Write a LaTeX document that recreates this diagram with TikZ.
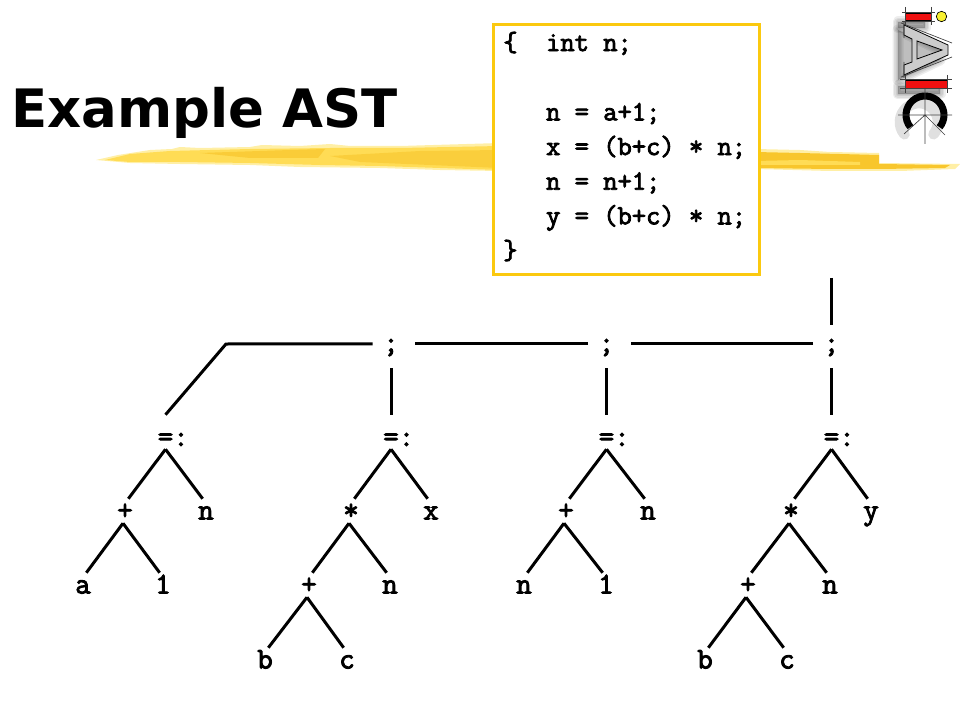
\documentclass[tikz,border=0pt]{standalone}
\usepackage{fontspec}
\usepackage{tikz}
\usetikzlibrary{arrows.meta,positioning,calc}
\usepackage{xcolor}
\newfontfamily\titlefont{DejaVu Sans}
\newfontfamily\monofont{Latin Modern Mono}[FakeBold=3]
\definecolor{brushpale}{HTML}{FFEFA6}
\definecolor{brushlight}{HTML}{FFDC55}
\definecolor{brushdark}{HTML}{F8C62C}
\definecolor{boxyellow}{HTML}{FBC90F}
\definecolor{logored}{HTML}{F01010}
\definecolor{logoyellow}{HTML}{F8F030}
\newcommand{\softshade}[1]{
  \foreach \wd in {11,8,5,2} {
    \path[fill=black, draw=black, opacity=0.07, line join=round, line width=\wd*0.75pt] #1;
  }
}

\begin{document}
\begin{tikzpicture}[
    x=0.75pt, y=-0.75pt,
    tree_edge/.style={line width=2.25pt, black},
    thin_rule/.style={line width=0.5pt, black!75},
    leaf/.style={
      inner sep=0pt, text height=15.35pt, text depth=2.65pt,
      font=\fontsize{22.5}{22}\monofont
    },
    asgn/.style={
      inner sep=0pt, text height=23.25pt, text depth=2.25pt,
      font=\fontsize{22.5}{22}\monofont
    },
    seq/.style={
      inner sep=0pt, minimum width=31.5pt, text height=20.25pt, text depth=12pt,
      font=\fontsize{22.5}{22}\monofont
    },
    code_box/.style={
      draw=boxyellow, fill=white, line width=2.25pt
    }
  ]
  \useasboundingbox (0,0) rectangle (960,720);

  % --- Brush stroke under the title ---
  \fill[brushpale] (96,160) -- (118,155) -- (150,150) -- (172,149) -- (180,147) -- (200,148)
    -- (250,147) -- (262,145) -- (300,146) -- (330,144) -- (350,146) -- (400,146) -- (500,143)
    -- (500,171) -- (440,170) -- (380,168) -- (300,167) -- (250,165) -- (180,164)
    -- (130,163) -- cycle;
  \fill[brushlight] (105,160) -- (130,154) -- (170,151) -- (250,149) -- (330,148)
    -- (400,148) -- (500,146) -- (500,170) -- (440,168) -- (380,166) -- (320,165)
    -- (250,163) -- (180,162) -- (130,162) -- cycle;
  \fill[brushdark, opacity=0.7] (200,153) -- (290,150) -- (325,149) -- (318,158) -- (250,158) -- cycle;
  \fill[brushdark, opacity=0.6] (330,156) -- (420,151) -- (500,150) -- (500,168) -- (430,165)
    -- (360,162) -- cycle;
  \fill[brushpale] (755,149) -- (800,150) -- (830,152) -- (879,153) -- (879,163) -- (960,164)
    -- (955,169) -- (900,171) -- (830,171) -- (755,169) -- cycle;
  \fill[brushdark] (755,152) -- (800,153) -- (879,155) -- (879,164) -- (950,165) -- (945,168)
    -- (880,169) -- (830,169) -- (755,168) -- cycle;
  \fill[brushlight] (755,161) -- (800,160) -- (860,162) -- (860,165) -- (800,165) -- (755,165) -- cycle;

  \node[font=\titlefont\bfseries\fontsize{39.7}{40}\selectfont, inner sep=0pt,
    anchor=base west] (title) at (11,128) {Example AST};

  % --- Source code ---
  \draw[code_box] (493.5,24.5) rectangle (759.5,274.5);
  \node[font=\fontsize{20.8}{26}\monofont, align=left, inner sep=0pt,
    anchor=north west] (code) at (503,31.5)
    {\{~~int n;\\[0pt]~\\~~~n = a+1;\\~~~x = (b+c) * n;\\~~~n = n+1;\\~~~y = (b+c) * n;\\\}};

  % --- Logo ---
  \softshade{(898,22) rectangle (925,28)}
  \softshade{(898,30) -- (940,50) -- (940,60) -- (898,80) -- cycle}
  \softshade{(898,86) rectangle (940,94)}
  \path[draw=black, opacity=0.12, line width=8pt, line cap=round]
    (919,122) ++(140:19) arc[start angle=140, end angle=400, radius=19];
  \fill[black!20, draw=black, line width=0.6pt, even odd rule]
    (904,25) -- (948,45) -- (948,55) -- (904,75) -- (904,65) -- (912,62) -- (912,39) -- (904,35) -- cycle
    (917,41) -- (942,50) -- (917,59) -- cycle;
  \draw[thin_rule] (901,23) -- (952,43) (901,77) -- (952,57) (904,22) -- (904,38) (904,62) -- (904,78);
  \fill[logored, draw=black, line width=0.5pt] (905,13.5) rectangle (931,20);
  \fill[logored, draw=black, line width=0.5pt] (905,80) rectangle (947,88);
  \draw[thin_rule] (902,12.5) -- (935,12.5) (902,21) -- (935,21)
    (905,7) -- (905,25) (931,7) -- (931,25);
  \draw[thin_rule] (900,79) -- (952,79) (900,88) -- (952,88)
    (905,75) -- (905,93) (947,75) -- (947,93);
  \fill[logoyellow, draw=black, line width=0.5pt] (941.5,16.5) circle[radius=5.2];
  \draw[line width=5.25pt, black] (925,115) ++(140:19) arc[start angle=140, end angle=400, radius=19];
  \draw[thin_rule] (898,115) -- (952,115) (925,88) -- (925,144)
    (925,115) -- (904,134) (925,115) -- (945,135);

  % --- Statement list ---
  \node[seq] (seqA) at (391,346.5) {;};
  \node[seq] (seqB) at (606.5,346.5) {;};
  \node[seq] (seqC) at (831.5,346.5) {;};
  \coordinate (entry) at (831.5,278);
  \coordinate (bend) at (226,344);

  \node[asgn] (asgnA) at (165.5,432) {=\rlap{:}};
  \node[asgn] (asgnB) at (391,432) {=\rlap{:}};
  \node[asgn] (asgnC) at (606.5,432) {=\rlap{:}};
  \node[asgn] (asgnD) at (831.5,432) {=\rlap{:}};

  \draw[tree_edge] (entry) -- (seqC.north);
  \draw[tree_edge] ([shift={(2.25pt,1.9pt)}]seqC.west) -- ([shift={(2.25pt,1.9pt)}]seqB.east);
  \draw[tree_edge] ([shift={(2.25pt,1.9pt)}]seqB.west) -- ([shift={(2.25pt,1.9pt)}]seqA.east);
  \draw[tree_edge] ([shift={(2.25pt,1.9pt)}]seqA.west) -- (bend) -- (asgnA.north);
  \draw[tree_edge] (seqA.south) -- (asgnB.north);
  \draw[tree_edge] (seqB.south) -- (asgnC.north);
  \draw[tree_edge] (seqC.south) -- (asgnD.north);

  % --- n = a+1 ---
  \node[leaf] (plusA) at (125,511) {+};
  \node[leaf] (nA) at (206,511) {n};
  \node[leaf] (aA) at (83,585) {a};
  \node[leaf] (oneA) at (163,585) {1};
  \draw[tree_edge] (asgnA.south) -- ([xshift=2.5pt]plusA.north);
  \draw[tree_edge] (asgnA.south) -- ([xshift=-2.5pt]nA.north);
  \draw[tree_edge] ([xshift=-1.5pt]plusA.south) -- ([xshift=2.5pt]aA.north);
  \draw[tree_edge] ([xshift=-1.5pt]plusA.south) -- ([xshift=-2.5pt]oneA.north);

  % --- x = (b+c) * n ---
  \node[leaf] (timesB) at (351,511) {*};
  \node[leaf] (xB) at (431,511) {x};
  \node[leaf] (plusB) at (309,585) {+};
  \node[leaf] (nB) at (390,585) {n};
  \node[leaf] (bB) at (265,660) {b};
  \node[leaf] (cB) at (347,660) {c};
  \draw[tree_edge] (asgnB.south) -- ([xshift=2.5pt]timesB.north);
  \draw[tree_edge] (asgnB.south) -- ([xshift=-2.5pt]xB.north);
  \draw[tree_edge] ([xshift=-1.5pt]timesB.south) -- ([xshift=2.5pt]plusB.north);
  \draw[tree_edge] ([xshift=-1.5pt]timesB.south) -- ([xshift=-2.5pt]nB.north);
  \draw[tree_edge] ([xshift=-1.5pt]plusB.south) -- ([xshift=2.5pt]bB.north);
  \draw[tree_edge] ([xshift=-1.5pt]plusB.south) -- ([xshift=-2.5pt]cB.north);

  % --- n = n+1 ---
  \node[leaf] (plusC) at (566,511) {+};
  \node[leaf] (nC) at (648,511) {n};
  \node[leaf] (nnC) at (524,585) {n};
  \node[leaf] (oneC) at (606,585) {1};
  \draw[tree_edge] (asgnC.south) -- ([xshift=2.5pt]plusC.north);
  \draw[tree_edge] (asgnC.south) -- ([xshift=-2.5pt]nC.north);
  \draw[tree_edge] ([xshift=-1.5pt]plusC.south) -- ([xshift=2.5pt]nnC.north);
  \draw[tree_edge] ([xshift=-1.5pt]plusC.south) -- ([xshift=-2.5pt]oneC.north);

  % --- y = (b+c) * n ---
  \node[leaf] (timesD) at (791,511) {*};
  \node[leaf] (yD) at (871,511) {y};
  \node[leaf] (plusD) at (748,585) {+};
  \node[leaf] (nD) at (830,585) {n};
  \node[leaf] (bD) at (705,660) {b};
  \node[leaf] (cD) at (787,660) {c};
  \draw[tree_edge] (asgnD.south) -- ([xshift=2.5pt]timesD.north);
  \draw[tree_edge] (asgnD.south) -- ([xshift=-2.5pt]yD.north);
  \draw[tree_edge] ([xshift=-1.5pt]timesD.south) -- ([xshift=2.5pt]plusD.north);
  \draw[tree_edge] ([xshift=-1.5pt]timesD.south) -- ([xshift=-2.5pt]nD.north);
  \draw[tree_edge] ([xshift=-1.5pt]plusD.south) -- ([xshift=2.5pt]bD.north);
  \draw[tree_edge] ([xshift=-1.5pt]plusD.south) -- ([xshift=-2.5pt]cD.north);
\end{tikzpicture}
\end{document}
